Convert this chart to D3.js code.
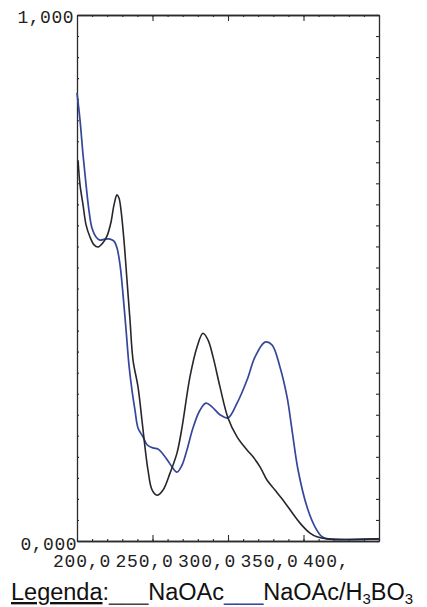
<!DOCTYPE html>
<html>
<head>
<meta charset="utf-8">
<script src="https://cdn.jsdelivr.net/npm/d3@7"></script>
<style>
  html, body { margin: 0; padding: 0; background: #fff; }
  svg { display: block; }
  .tick text { display: none; }
  .domain { stroke: #2b2b2b; stroke-width: 1.3; }
  .tick line { stroke: #2b2b2b; stroke-width: 1.1; }
</style>
</head>
<body>
<div id="chart"></div>
<script>
// wavelength (nm) / absorbance
var naoacX = [200.7, 202, 204, 206, 208.6, 211.3, 213.9, 217.2, 219.9, 222.5, 224.5, 226.5, 227.8, 229.1,
  231.1, 233.1, 235.1, 237.1, 240.4, 243, 245, 247, 249.7, 253, 257, 261.6, 266.2, 269.5, 274.8, 279.5,
  283.4, 286.8, 290.1, 294.7, 300, 306, 312.6, 316.6, 321.2, 325.8, 331.1, 336.4, 347.7, 354.3, 358.9,
  365.6, 400];
var naoacY = [0.724, 0.677, 0.639, 0.601, 0.578, 0.563, 0.559, 0.567, 0.58, 0.606, 0.639, 0.658, 0.652, 0.63,
  0.572, 0.496, 0.42, 0.344, 0.293, 0.23, 0.179, 0.135, 0.097, 0.087, 0.097, 0.129, 0.167, 0.215, 0.312, 0.369,
  0.395, 0.382, 0.35, 0.293, 0.234, 0.198, 0.173, 0.16, 0.141, 0.116, 0.097, 0.078, 0.034, 0.015, 0.008,
  0.004, 0.004];

var boricX = [200, 202, 204, 206, 207.9, 209.9, 212.6, 215.2, 218.5, 221.9, 224.5, 226.5, 228.5, 230.5,
  232.5, 234.4, 236.4, 238.4, 240.4, 243.7, 246.4, 250.3, 253.6, 257, 260.3, 262.9, 266.2, 269.5, 272.8,
  276.8, 281.5, 285.4, 289.4, 294.7, 300, 306, 312.6, 317.9, 324.5, 329.1, 334.4, 339.1, 342.4, 346.4,
  352.3, 357.6, 362.3, 366.2, 400];
var boricY = [0.852, 0.8, 0.734, 0.677, 0.629, 0.595, 0.578, 0.572, 0.574, 0.574, 0.57, 0.557, 0.525, 0.468,
  0.401, 0.335, 0.287, 0.249, 0.215, 0.198, 0.183, 0.177, 0.175, 0.165, 0.152, 0.141, 0.131, 0.144, 0.173,
  0.215, 0.249, 0.262, 0.255, 0.24, 0.234, 0.262, 0.306, 0.35, 0.378, 0.373, 0.331, 0.274, 0.211, 0.135,
  0.065, 0.027, 0.008, 0.004, 0.004];

var xLabels = ["200,0", "250,0", "300,0", "350,0", "400,"];
var xLabelValues = [200, 250, 300, 350, 400];
var yLabels = ["0,000", "1,000"];

var width = 427, height = 607;
var x = d3.scaleLinear().domain([200, 400]).range([77, 379]);
var y = d3.scaleLinear().domain([0, 1]).range([541, 15]);
// the printed labels sit left of their ticks
var labelX = d3.scaleLinear().domain([200, 400]).range([53, 303]);

var svg = d3.select("#chart").append("svg")
  .attr("width", width)
  .attr("height", height);

// frame with inward ticks
var minorX = d3.range(200, 401, 10), majorX = [250, 300, 350];
svg.append("g").attr("transform", "translate(0," + y(1) + ")")
  .call(d3.axisTop(x).tickValues(minorX).tickSize(-2).tickSizeOuter(0));
svg.append("g").attr("transform", "translate(0," + y(1) + ")")
  .call(d3.axisTop(x).tickValues(majorX).tickSize(-6).tickSizeOuter(0));
svg.append("g").attr("transform", "translate(0," + y(0) + ")")
  .call(d3.axisBottom(x).tickValues(minorX).tickSize(-2).tickSizeOuter(0));
svg.append("g").attr("transform", "translate(0," + y(0) + ")")
  .call(d3.axisBottom(x).tickValues(majorX).tickSize(-6).tickSizeOuter(0));

var minorY = d3.range(0, 1.001, 0.04);
svg.append("g").attr("transform", "translate(" + x(200) + ",0)")
  .call(d3.axisLeft(y).tickValues(minorY).tickSize(-2).tickSizeOuter(0));
svg.append("g").attr("transform", "translate(" + x(400) + ",0)")
  .call(d3.axisRight(y).tickValues(minorY).tickSize(-3).tickSizeOuter(0));

// tick labels
var mono = "'Liberation Mono', 'DejaVu Sans Mono', monospace";
svg.selectAll(".ylab").data(yLabels).enter().append("text")
  .attr("x", function(d, i) { return i === 0 ? 77 : 74; })
  .attr("y", function(d, i) { return i === 0 ? y(0) + 9 : y(1) + 8; })
  .attr("text-anchor", "end")
  .style("font-family", mono)
  .style("font-size", "18px")
  .style("letter-spacing", "0.5px")
  .style("fill", "#222")
  .text(function(d) { return d; });

svg.selectAll(".xlab").data(xLabels).enter().append("text")
  .attr("x", function(d, i) { return labelX(xLabelValues[i]); })
  .attr("y", 567)
  .style("font-family", mono)
  .style("font-size", "18px")
  .style("letter-spacing", "0.8px")
  .style("fill", "#222")
  .text(function(d) { return d; });

// spectra
var line = d3.line()
  .x(function(d) { return x(d[0]); })
  .y(function(d) { return y(d[1]); })
  .curve(d3.curveCatmullRom.alpha(0.5));

svg.append("path")
  .datum(d3.zip(boricX, boricY))
  .attr("d", line)
  .style("fill", "none")
  .style("stroke", "#34479a")
  .style("stroke-width", 1.7);

svg.append("path")
  .datum(d3.zip(naoacX, naoacY))
  .attr("d", line)
  .style("fill", "none")
  .style("stroke", "#26262e")
  .style("stroke-width", 1.6);

// legend
var leg = svg.append("text")
  .attr("x", 11)
  .attr("y", 600)
  .style("font-family", "'Liberation Sans', Arial, sans-serif")
  .style("font-size", "23.5px")
  .style("fill", "#111");
leg.append("tspan").style("text-decoration", "underline").text("Legenda");
leg.append("tspan").text(":");
leg.append("tspan").style("fill", "#444").text("___");
leg.append("tspan").text("NaOAc");
leg.append("tspan").style("fill", "#34479a").text("___");
leg.append("tspan").text("NaOAc/H");
leg.append("tspan").attr("dy", 4).style("font-size", "15px").text("3");
leg.append("tspan").attr("dy", -4).text("BO");
leg.append("tspan").attr("dy", 4).style("font-size", "15px").text("3");
</script>
</body>
</html>
